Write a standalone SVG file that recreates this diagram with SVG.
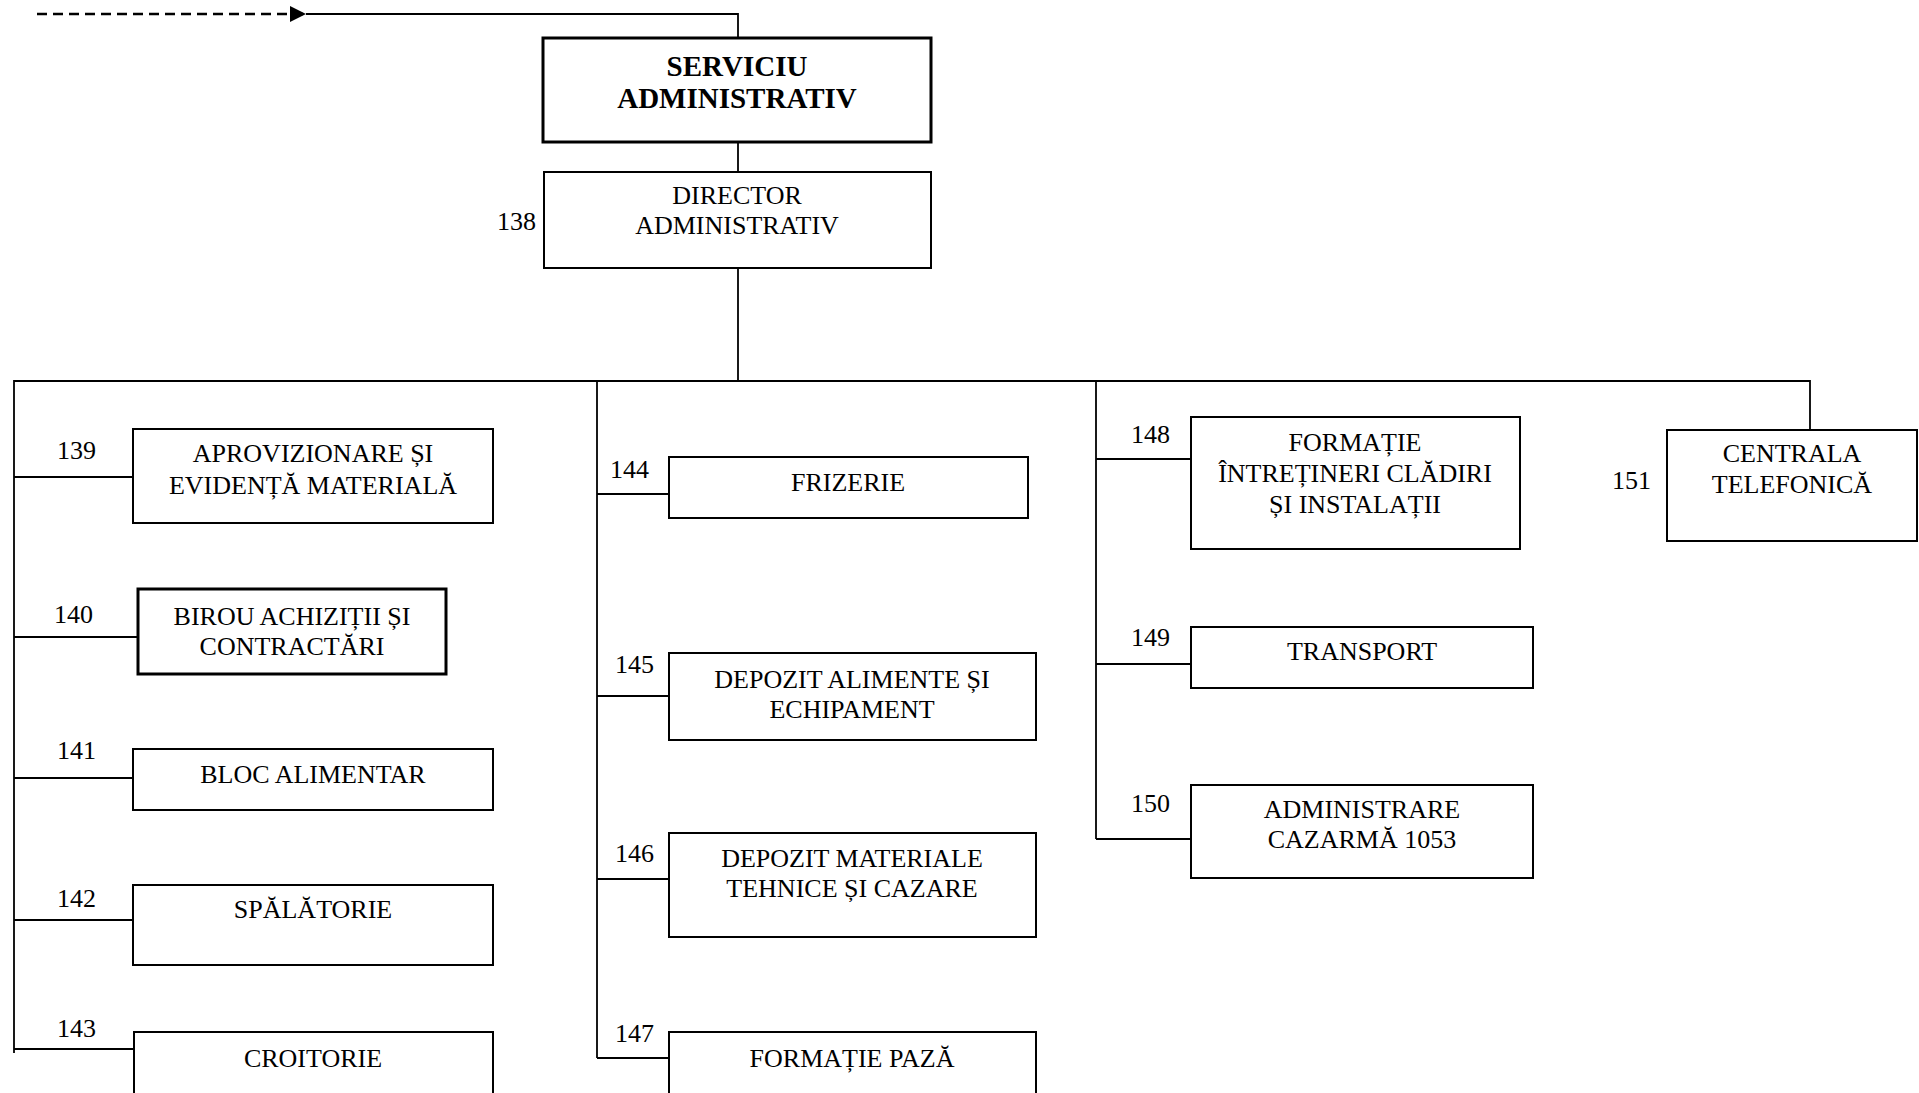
<svg xmlns="http://www.w3.org/2000/svg" width="1919" height="1093" viewBox="0 0 1919 1093">
  <style>
    .box { fill: #fff; stroke: #000; stroke-width: 2; }
    .bold-box { fill: #fff; stroke: #000; stroke-width: 3; }
    .wire { fill: none; stroke: #000; stroke-width: 1.8; }
    .t { font-family: "Liberation Serif", "Times New Roman", serif; font-size: 26px; fill: #000; text-anchor: middle; }
    .tb { font-family: "Liberation Serif", "Times New Roman", serif; font-size: 29px; font-weight: bold; fill: #000; text-anchor: middle; }
    .num { font-family: "Liberation Serif", "Times New Roman", serif; font-size: 26px; fill: #000; }
  </style>
  <defs>
    <marker id="arrow" viewBox="0 0 10 10" refX="10" refY="5" markerWidth="8" markerHeight="8" markerUnits="userSpaceOnUse" orient="auto">
      <path d="M0,0 L10,5 L0,10 Z" fill="#000"/>
    </marker>
    <marker id="tri" viewBox="0 0 16 16" refX="16" refY="8" markerWidth="16" markerHeight="16" markerUnits="userSpaceOnUse" orient="auto">
      <path d="M0,0 L16,8 L0,16 Z" fill="#000"/>
    </marker>
  </defs>
  <rect width="1919" height="1093" fill="#fff"/>

  <g id="connectors">
    <!-- incoming dashed link to the service -->
    <line x1="37" y1="14" x2="306" y2="14" stroke="#000" stroke-width="2.5" stroke-dasharray="10 6" marker-end="url(#tri)"/>
    <polyline class="wire" points="306,14 738,14 738,38" stroke-width="2.2"/>
    <line class="wire" x1="738" y1="142" x2="738" y2="172"/>
    <line class="wire" x1="738" y1="268" x2="738" y2="381"/>
    <!-- main bus -->
    <polyline class="wire" points="14,1053 14,381 1810,381 1810,430"/>
    <line class="wire" x1="597" y1="381" x2="597" y2="1058"/>
    <line class="wire" x1="1096" y1="381" x2="1096" y2="839"/>
    <!-- left column branches -->
    <line class="wire" x1="14" y1="477" x2="133" y2="477"/>
    <line class="wire" x1="14" y1="637" x2="138" y2="637"/>
    <line class="wire" x1="14" y1="778" x2="133" y2="778"/>
    <line class="wire" x1="14" y1="920" x2="133" y2="920"/>
    <line class="wire" x1="14" y1="1049" x2="134" y2="1049"/>
    <!-- middle column branches -->
    <line class="wire" x1="597" y1="494" x2="669" y2="494"/>
    <line class="wire" x1="597" y1="696" x2="669" y2="696"/>
    <line class="wire" x1="597" y1="879" x2="669" y2="879"/>
    <line class="wire" x1="597" y1="1058" x2="669" y2="1058"/>
    <!-- right column branches -->
    <line class="wire" x1="1096" y1="459" x2="1191" y2="459"/>
    <line class="wire" x1="1096" y1="664" x2="1191" y2="664"/>
    <line class="wire" x1="1096" y1="839" x2="1191" y2="839"/>
  </g>

  <g id="serviciu">
    <rect class="bold-box" x="543" y="38" width="388" height="104"/>
    <text class="tb" x="737" y="76">SERVICIU</text>
    <text class="tb" x="737" y="108">ADMINISTRATIV</text>
  </g>

  <g id="n138">
    <rect class="box" x="544" y="172" width="387" height="96"/>
    <text class="t" x="737" y="204">DIRECTOR</text>
    <text class="t" x="737" y="234">ADMINISTRATIV</text>
    <text class="num" x="536" y="230" text-anchor="end">138</text>
  </g>

  <g id="n139">
    <rect class="box" x="133" y="429" width="360" height="94"/>
    <text class="t" x="313" y="462">APROVIZIONARE ȘI</text>
    <text class="t" x="313" y="494">EVIDENȚĂ MATERIALĂ</text>
    <text class="num" x="57" y="459">139</text>
  </g>

  <g id="n140">
    <rect class="bold-box" x="138" y="589" width="308" height="85"/>
    <text class="t" x="292" y="625">BIROU ACHIZIȚII ȘI</text>
    <text class="t" x="292" y="655">CONTRACTĂRI</text>
    <text class="num" x="54" y="623">140</text>
  </g>

  <g id="n141">
    <rect class="box" x="133" y="749" width="360" height="61"/>
    <text class="t" x="313" y="783">BLOC ALIMENTAR</text>
    <text class="num" x="57" y="759">141</text>
  </g>

  <g id="n142">
    <rect class="box" x="133" y="885" width="360" height="80"/>
    <text class="t" x="313" y="918">SPĂLĂTORIE</text>
    <text class="num" x="57" y="907">142</text>
  </g>

  <g id="n143">
    <rect class="box" x="134" y="1032" width="359" height="80"/>
    <text class="t" x="313" y="1067">CROITORIE</text>
    <text class="num" x="57" y="1037">143</text>
  </g>

  <g id="n144">
    <rect class="box" x="669" y="457" width="359" height="61"/>
    <text class="t" x="848" y="491">FRIZERIE</text>
    <text class="num" x="610" y="478">144</text>
  </g>

  <g id="n145">
    <rect class="box" x="669" y="653" width="367" height="87"/>
    <text class="t" x="852" y="688">DEPOZIT ALIMENTE ȘI</text>
    <text class="t" x="852" y="718">ECHIPAMENT</text>
    <text class="num" x="615" y="673">145</text>
  </g>

  <g id="n146">
    <rect class="box" x="669" y="833" width="367" height="104"/>
    <text class="t" x="852" y="867">DEPOZIT MATERIALE</text>
    <text class="t" x="852" y="897">TEHNICE ȘI CAZARE</text>
    <text class="num" x="615" y="862">146</text>
  </g>

  <g id="n147">
    <rect class="box" x="669" y="1032" width="367" height="80"/>
    <text class="t" x="852" y="1067">FORMAȚIE PAZĂ</text>
    <text class="num" x="615" y="1042">147</text>
  </g>

  <g id="n148">
    <rect class="box" x="1191" y="417" width="329" height="132"/>
    <text class="t" x="1355" y="451">FORMAȚIE</text>
    <text class="t" x="1355" y="482">ÎNTREȚINERI CLĂDIRI</text>
    <text class="t" x="1355" y="513">ȘI INSTALAȚII</text>
    <text class="num" x="1131" y="443">148</text>
  </g>

  <g id="n149">
    <rect class="box" x="1191" y="627" width="342" height="61"/>
    <text class="t" x="1362" y="660">TRANSPORT</text>
    <text class="num" x="1131" y="646">149</text>
  </g>

  <g id="n150">
    <rect class="box" x="1191" y="785" width="342" height="93"/>
    <text class="t" x="1362" y="818">ADMINISTRARE</text>
    <text class="t" x="1362" y="848">CAZARMĂ 1053</text>
    <text class="num" x="1131" y="812">150</text>
  </g>

  <g id="n151">
    <rect class="box" x="1667" y="430" width="250" height="111"/>
    <text class="t" x="1792" y="462">CENTRALA</text>
    <text class="t" x="1792" y="493">TELEFONICĂ</text>
    <text class="num" x="1651" y="489" text-anchor="end">151</text>
  </g>
</svg>
